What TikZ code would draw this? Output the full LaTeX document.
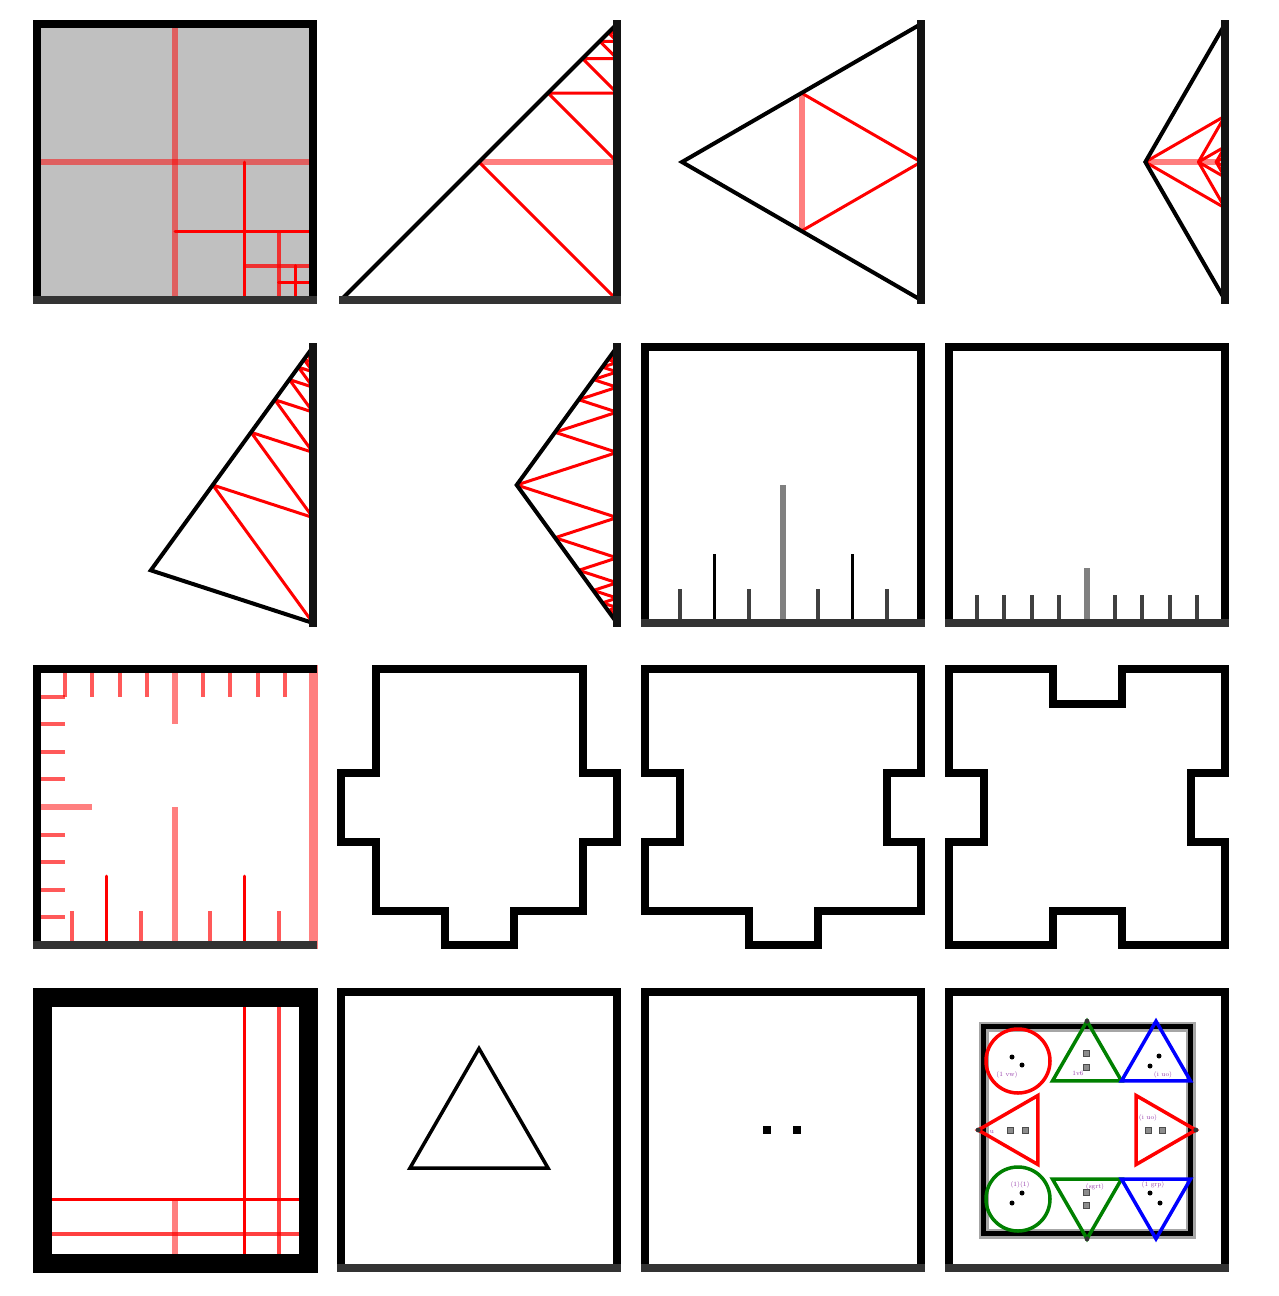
\documentclass[tikz,border=0pt]{standalone}
\definecolor{panelgray}{RGB}{192,192,192}
\definecolor{botgray}{RGB}{51,51,51}
\definecolor{dgreen}{RGB}{0,128,0}
\definecolor{lblpurple}{RGB}{150,60,170}
\tikzset{
  frame/.style={draw=black, line width=8pt, line join=miter},
  botline/.style={draw=botgray, line width=8pt},
  edgeline/.style={draw=black!93, line width=8pt},
  triline/.style={draw=black, line width=4pt, line join=miter},
  polyline/.style={draw=black, line width=8pt, line join=miter},
  redthin/.style={draw=red, line width=3pt, line join=round, line cap=round},
  redmid/.style={draw=red, line width=4pt, opacity=0.75},
  redfade/.style={draw=red, line width=6pt, opacity=0.5},
  redshort/.style={draw=red, line width=4pt, opacity=0.65},
  tickshort/.style={draw=black!75, line width=4pt},
  tickmid/.style={draw=black, line width=3pt},
  ticklong/.style={draw=black!50, line width=6pt},
  shapeline/.style={line width=3.5pt, line join=miter},
  graysq/.style={fill=black!45, draw=black!70, line width=0.8pt},
  tinylbl/.style={text=lblpurple, font=\fontsize{6.5}{6.5}\selectfont, inner sep=0pt},
}
\newcommand{\drawpanelframe}{\draw[frame] (0,0) rectangle (276,276); \draw[botline] (-4,276) -- (280,276);}
\begin{document}
\begin{tikzpicture}[x=1pt,y=-1pt]
\useasboundingbox (0,0) rectangle (1278,1296);
\fill[white] (0,0) rectangle (1278,1296);

% ---------- Panel 1 ----------
\begin{scope}[shift={(37,24)}]
\fill[panelgray] (0,0) rectangle (276,276);
\draw[redfade] (138,0) -- (138,276);
\draw[redfade] (0,138) -- (276,138);
\draw[redthin] (207,138) -- (207,276);
\draw[redthin] (138,207) -- (276,207);
\draw[redmid] (241.5,207) -- (241.5,276);
\draw[redmid] (207,241.5) -- (276,241.5);
\draw[redthin] (258.75,241.5) -- (258.75,276);
\draw[redthin] (241.5,258.75) -- (276,258.75);
\drawpanelframe
\end{scope}

% ---------- Panel 2 ----------
\begin{scope}[shift={(341,24)}]
\draw[redthin] (276,276) -- (138,138);
\draw[redfade] (138,138) -- (276,138);
\foreach \h in {69,34.5,17.25,8.625,4.3125}
  \draw[redthin] (276,2*\h) -- (276-\h,\h) -- (276,\h);
\draw[triline] (0,276) -- (276,0);
\draw[edgeline] (276,-4) -- (276,280);
\draw[botline] (-2,276) -- (280,276);
\end{scope}

% ---------- Panel 3 ----------
\begin{scope}[shift={(645,24)}]
\draw[redfade] (156.5,69) -- (156.5,207);
\draw[redthin] (156.5,69) -- (276,138) -- (156.5,207);
\draw[triline] (276,0) -- (37,138) -- (276,276);
\draw[edgeline] (276,-4) -- (276,280);
\end{scope}

% ---------- Panel 4 ----------
\begin{scope}[shift={(949,24)}]
\draw[redfade] (196.33,138) -- (249.44,138);
\draw[redthin] (276,92) -- (196.33,138) -- (276,184);
\draw[redthin] (276,92) -- (249.44,138) -- (276,184);
\draw[redfade] (249.44,138) -- (267.15,138);
\draw[redthin] (276,122.67) -- (249.44,138) -- (276,153.33);
\draw[redthin] (276,122.67) -- (267.15,138) -- (276,153.33);
\draw[redthin] (276,132.9) -- (267.15,138) -- (276,143.1);
\draw[triline] (276,0) -- (196.33,138) -- (276,276);
\draw[edgeline] (276,-4) -- (276,280);
\end{scope}

% ---------- Panel 5 ----------
\begin{scope}[shift={(37,347)}]
\foreach \d in {276,170.6,105.4,65.1,40.3,24.9,15.4,9.5}
  \draw[redthin] (276,\d) -- (276-0.5878*0.618*\d,0.809*0.618*\d) -- (276,0.618*\d);
\draw[triline] (276,0) -- (113.8,223.3) -- (276,276);
\draw[edgeline] (276,-4) -- (276,280);
\end{scope}

% ---------- Panel 6 ----------
\begin{scope}[shift={(341,347)}]
\foreach \d in {170.6,105.4,65.1,40.3,24.9,15.4,9.5} {
  \draw[redthin] (276-0.5878*\d,0.809*\d) -- (276,0.618*\d) -- (276-0.5878*0.618*\d,0.809*0.618*\d);
  \draw[redthin] (276-0.5878*\d,276-0.809*\d) -- (276,276-0.618*\d) -- (276-0.5878*0.618*\d,276-0.809*0.618*\d);
}
\draw[triline] (276,0) -- (175.7,138) -- (276,276);
\draw[edgeline] (276,-4) -- (276,280);
\end{scope}

% ---------- Panel 7 ----------
\begin{scope}[shift={(645,347)}]
\foreach \k in {1,3,5,7}
  \draw[tickshort] (34.5*\k,276) -- (34.5*\k,241.5);
\draw[tickmid] (69,276) -- (69,207);
\draw[tickmid] (207,276) -- (207,207);
\draw[ticklong] (138,276) -- (138,138);
\drawpanelframe
\end{scope}

% ---------- Panel 8 ----------
\begin{scope}[shift={(949,347)}]
\foreach \k in {1,2,3,4,6,7,8,9}
  \draw[tickshort] (27.6*\k,276) -- (27.6*\k,248.4);
\draw[ticklong] (138,276) -- (138,220.8);
\drawpanelframe
\end{scope}

% ---------- Panel 9 ----------
\begin{scope}[shift={(37,669)}]
\foreach \k in {1,2,3,4,6,7,8,9} {
  \draw[redshort] (27.6*\k,0) -- (27.6*\k,27.6);
  \draw[redshort] (0,27.6*\k) -- (27.6,27.6*\k);
}
\draw[redfade] (138,0) -- (138,55.2);
\draw[redfade] (0,138) -- (55.2,138);
\foreach \k in {1,3,5,7}
  \draw[redshort] (34.5*\k,276) -- (34.5*\k,241.5);
\draw[redthin] (69,276) -- (69,207);
\draw[redthin] (207,276) -- (207,207);
\draw[redfade] (138,276) -- (138,138);
\draw[redfade, line width=9pt] (276,-4) -- (276,280);
\draw[frame] (280,0) -- (0,0) -- (0,280);
\draw[botline] (-4,276) -- (280,276);
\end{scope}

% ---------- Panel 10 ----------
\begin{scope}[shift={(341,669)}, x=34.5pt, y=-34.5pt]
\draw[polyline] (1,0) -- (7,0) -- (7,3) -- (8,3) -- (8,5) -- (7,5) -- (7,7) -- (5,7) -- (5,8) -- (3,8) -- (3,7) -- (1,7) -- (1,5) -- (0,5) -- (0,3) -- (1,3) -- cycle;
\end{scope}

% ---------- Panel 11 ----------
\begin{scope}[shift={(645,669)}, x=34.5pt, y=-34.5pt]
\draw[polyline] (0,0) -- (8,0) -- (8,3) -- (7,3) -- (7,5) -- (8,5) -- (8,7) -- (5,7) -- (5,8) -- (3,8) -- (3,7) -- (0,7) -- (0,5) -- (1,5) -- (1,3) -- (0,3) -- cycle;
\end{scope}

% ---------- Panel 12 ----------
\begin{scope}[shift={(949,669)}, x=34.5pt, y=-34.5pt]
\draw[polyline] (0,0) -- (3,0) -- (3,1) -- (5,1) -- (5,0) -- (8,0) -- (8,3) -- (7,3) -- (7,5) -- (8,5) -- (8,8) -- (5,8) -- (5,7) -- (3,7) -- (3,8) -- (0,8) -- (0,5) -- (1,5) -- (1,3) -- (0,3) -- cycle;
\end{scope}

% ---------- Panel 13 ----------
\begin{scope}[shift={(37,992)}]
\draw[redthin] (207,0) -- (207,276);
\draw[redthin] (0,207) -- (276,207);
\draw[redmid] (241.5,0) -- (241.5,276);
\draw[redmid] (0,241.5) -- (276,241.5);
\draw[redfade] (138,207) -- (138,276);
\draw[draw=black, line width=19pt] (5.5,5.5) rectangle (271.5,271.5);
\end{scope}

% ---------- Panel 14 ----------
\begin{scope}[shift={(341,992)}]
\drawpanelframe
\draw[black, line width=3.5pt, line join=miter] (69,176) -- (207,176) -- (138,56.5) -- cycle;
\end{scope}

% ---------- Panel 15 ----------
\begin{scope}[shift={(645,992)}]
\drawpanelframe
\fill[black] (118,134) rectangle (126,142);
\fill[black] (148,134) rectangle (156,142);
\end{scope}

% ---------- Panel 16 ----------
\begin{scope}[shift={(949,992)}]
\drawpanelframe
\draw[black!35, line width=10pt] (34.5,34.5) rectangle (241.5,241.5);
\draw[black, line width=4.5pt] (34.5,34.5) rectangle (241.5,241.5);
\draw[shapeline, red] (69,69) circle (32);
\draw[shapeline, dgreen] (138,29.2) -- (103.5,88.9) -- (172.5,88.9) -- cycle;
\draw[shapeline, blue] (207,29.2) -- (172.5,88.9) -- (241.5,88.9) -- cycle;
\draw[shapeline, red] (29.2,138) -- (88.9,103.5) -- (88.9,172.5) -- cycle;
\draw[shapeline, red] (246.8,138) -- (187.1,103.5) -- (187.1,172.5) -- cycle;
\draw[shapeline, dgreen] (69,207) circle (32);
\draw[shapeline, dgreen] (138,246.8) -- (103.5,187.1) -- (172.5,187.1) -- cycle;
\draw[shapeline, blue] (207,246.8) -- (172.5,187.1) -- (241.5,187.1) -- cycle;
\foreach \p in {(63,65),(73,73),(210,64),(201,74),(73,201),(63,211),(201,201),(211,211)}
  \fill[black] \p circle (2.5);
\foreach \p in {(138,29.2),(29.2,138),(246.8,138),(138,246.8)}
  \fill[black!80] \p circle (2.5);
\foreach \p in {(137,61),(137,75),(61,138),(76,138),(199,138),(213,138),(137,200),(137,213)}
  \draw[graysq] \p ++(-3,-3) rectangle ++(6,6);
\node[tinylbl] (l1) at (58,83) {(1 vw)};
\node[tinylbl] (l2) at (129,81) {1v6};
\node[tinylbl] (l3) at (214,83) {(i uo)};
\node[tinylbl] (l4) at (43,140) {u};
\node[tinylbl] (l5) at (199,126) {(i uo)};
\node[tinylbl] (l6) at (71,193) {(1)(1)};
\node[tinylbl] (l7) at (146,195) {(sgrt)};
\node[tinylbl] (l8) at (204,193) {(1 grp)};
\end{scope}
\end{tikzpicture}
\end{document}
